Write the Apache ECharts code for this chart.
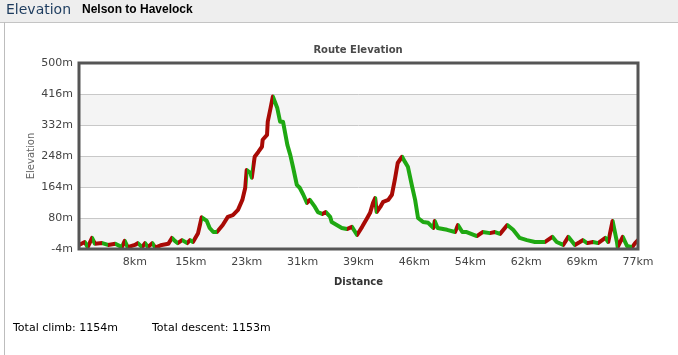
<!DOCTYPE html>
<html>
<head>
<meta charset="utf-8">
<script src="https://cdn.jsdelivr.net/npm/echarts@6/dist/echarts.min.js"></script>
<style>
html,body{margin:0;padding:0;background:#fff;}
#chart{width:678px;height:355px;}
</style>
</head>
<body>
<div id="chart"></div>
<script>
// ---- data ----
const distanceKm = [0,0.8,1.2,1.8,2.2,3.2,4.0,5.0,5.9,6.3,6.7,7.7,8.1,8.7,9.1,9.5,10.1,10.5,11.4,12.3,12.8,13.2,13.6,14.2,14.9,15.3,15.7,16.4,16.9,17.6,18.0,18.5,19.0,19.8,20.5,21.2,21.9,22.5,22.9,23.1,23.6,23.8,24.2,24.7,25.2,25.3,25.9,26.0,26.4,26.7,27.3,27.7,28.1,28.7,29.1,29.5,30.0,30.4,30.9,31.4,31.8,32.5,32.9,33.5,34.0,34.6,34.8,35.5,36.2,36.9,37.6,38.3,39.0,39.7,40.1,40.5,40.8,41.0,41.5,41.9,42.6,43.1,43.5,43.9,44.5,44.9,45.3,45.9,46.3,46.7,47.4,48.1,48.8,49.0,49.4,50.7,51.8,52.2,52.8,53.4,54.8,55.6,56.6,57.3,58.0,59.0,59.8,60.7,61.7,62.8,64.2,65.2,65.8,66.7,67.4,68.3,69.0,69.4,70.0,70.8,71.5,72.5,72.9,73.5,74.1,74.2,74.9,75.5,76.2,76.6,77.0];
const elevationM = [7,15,1,26,10,12,7,10,1,18,1,7,12,1,12,1,12,0,7,10,26,18,12,20,12,20,15,39,82,72,53,42,42,61,83,88,102,129,162,210,202,189,246,259,273,292,305,341,379,409,379,341,341,278,251,216,170,162,143,121,129,110,96,91,96,83,69,61,53,50,56,34,56,80,94,121,134,96,110,124,129,143,183,229,246,232,219,164,129,80,69,67,53,72,53,48,42,61,42,42,31,42,39,42,37,61,48,26,20,15,15,29,15,7,29,7,15,20,12,15,12,26,15,72,15,1,29,4,1,12,20];
const yMin = -4, yMax = 500, yStep = 84;
const xMin = 0, xMax = 77, xStep = 7.7;
const headerTitle = 'Elevation';
const routeName = 'Nelson to Havelock';
const chartTitle = 'Route Elevation';
const totalClimb = 'Total climb: 1154m';
const totalDescent = 'Total descent: 1153m';

const RED = '#a80a05', GREEN = '#1fa812';

const points = distanceKm.map((d, i) => [d, elevationM[i]]);
const pieces = [];
for (let i = 0; i < distanceKm.length - 1; i++) {
  const color = elevationM[i + 1] > elevationM[i] ? RED : GREEN;
  const last = pieces[pieces.length - 1];
  if (last && last.color === color) { last.lt = distanceKm[i + 1]; }
  else pieces.push({ gte: distanceKm[i], lt: distanceKm[i + 1], color: color });
}
pieces[pieces.length - 1].lte = pieces[pieces.length - 1].lt;
delete pieces[pieces.length - 1].lt;

const chart = echarts.init(document.getElementById('chart'), null, { renderer: 'canvas' });
chart.setOption({
  animation: false,
  backgroundColor: '#ffffff',
  textStyle: { fontFamily: 'DejaVu Sans' },
  title: {
    text: chartTitle,
    left: 353, top: 40, textAlign: 'center',
    textStyle: { fontSize: 10, fontWeight: 'bold', color: '#4a4a4a', fontFamily: 'DejaVu Sans' }
  },
  graphic: [
    { type: 'rect', shape: { x: 0, y: 0, width: 678, height: 22 }, style: { fill: '#eeeeee' }, silent: true },
    { type: 'line', shape: { x1: 0, y1: 22.5, x2: 678, y2: 22.5 }, style: { stroke: '#c4c4c4', lineWidth: 1 }, silent: true },
    { type: 'line', shape: { x1: 4.5, y1: 22, x2: 4.5, y2: 355 }, style: { stroke: '#bdbdbd', lineWidth: 1 }, silent: true },
    { type: 'text', left: 6, top: 3, style: { text: headerTitle, fill: '#1c3b5e', font: '14px "DejaVu Sans"' }, silent: true },
    { type: 'text', left: 82, top: 4, style: { text: routeName, fill: '#000000', font: 'bold 12px "Liberation Sans"' }, silent: true },
    { type: 'text', left: 13, top: 323, style: { text: totalClimb, fill: '#000000', font: '11px "DejaVu Sans"' }, silent: true },
    { type: 'text', left: 152, top: 323, style: { text: totalDescent, fill: '#000000', font: '11px "DejaVu Sans"' }, silent: true }
  ],
  grid: { left: 79, right: 40, top: 63, bottom: 106, show: true, borderColor: '#555555', borderWidth: 3, backgroundColor: 'transparent', z: 3 },
  visualMap: { show: false, type: 'piecewise', dimension: 0, seriesIndex: 0, pieces: pieces },
  xAxis: {
    type: 'value', min: xMin, max: xMax, interval: xStep,
    name: 'Distance', nameLocation: 'middle', nameGap: 28,
    nameTextStyle: { fontSize: 10, fontWeight: 'bold', color: '#333333', fontFamily: 'DejaVu Sans' },
    axisLine: { show: false }, axisTick: { show: false }, splitLine: { show: false },
    axisLabel: {
      margin: 8, color: '#444444', fontSize: 11, fontFamily: 'DejaVu Sans',
      formatter: v => (v <= 0 ? '' : Math.round(v) + 'km')
    }
  },
  yAxis: {
    type: 'value', min: yMin, max: yMax, interval: yStep,
    name: 'Elevation', nameLocation: 'middle', nameGap: 43, nameRotate: 90, nameMoveOverlap: false,
    nameTextStyle: { fontSize: 10, color: '#666666', fontFamily: 'DejaVu Sans' },
    axisLine: { show: false }, axisTick: { show: false },
    splitLine: { show: true, lineStyle: { color: '#c8c8c8', width: 1 } },
    splitArea: { show: true, areaStyle: { color: ['#f4f4f4', '#ffffff'] } },
    axisLabel: { margin: 6, color: '#444444', fontSize: 11, fontFamily: 'DejaVu Sans', formatter: v => v + 'm' }
  },
  series: [{
    type: 'line', data: points, showSymbol: false, smooth: false,
    lineStyle: { width: 4, cap: 'round', join: 'round' }, z: 2
  }]
});
</script>
</body>
</html>
